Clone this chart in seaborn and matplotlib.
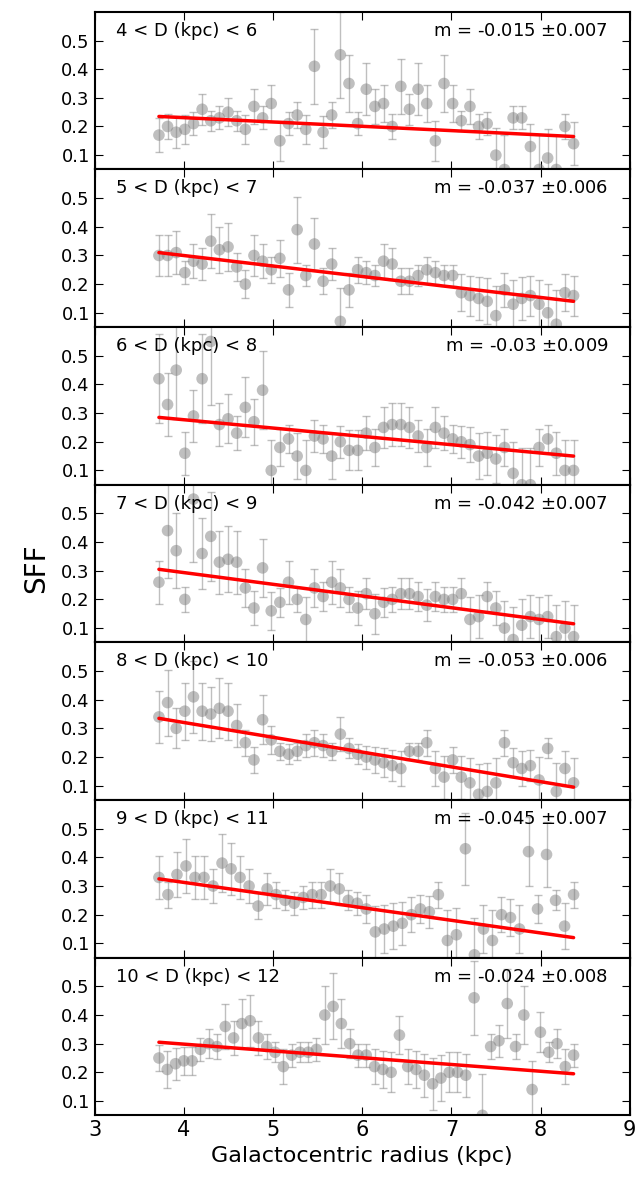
import numpy as np
import matplotlib
matplotlib.use("Agg")
import matplotlib.pyplot as plt
import seaborn as sns

labels = ["4 < D (kpc) < 6", "5 < D (kpc) < 7", "6 < D (kpc) < 8", "7 < D (kpc) < 9",
          "8 < D (kpc) < 10", "9 < D (kpc) < 11", "10 < D (kpc) < 12"]
slopes = ["m = -0.015 $\\pm$0.007", "m = -0.037 $\\pm$0.006", "m = -0.03 $\\pm$0.009",
          "m = -0.042 $\\pm$0.007", "m = -0.053 $\\pm$0.006", "m = -0.045 $\\pm$0.007",
          "m = -0.024 $\\pm$0.008"]

sff1 = [0.17, 0.20, 0.18, 0.19, 0.21, 0.26, 0.22, 0.23, 0.25, 0.22, 0.19, 0.27, 0.23, 0.28, 0.15, 0.21,
        0.24, 0.19, 0.41, 0.18, 0.24, 0.45, 0.35, 0.21, 0.33, 0.27, 0.28, 0.20, 0.34, 0.26, 0.33, 0.28,
        0.15, 0.35, 0.28, 0.22, 0.27, 0.20, 0.21, 0.10, 0.05, 0.23, 0.23, 0.13, 0.05, 0.09, 0.05, 0.20, 0.14]
sff2 = [0.30, 0.30, 0.31, 0.24, 0.28, 0.27, 0.35, 0.32, 0.33, 0.26, 0.20, 0.30, 0.28, 0.25, 0.29, 0.18,
        0.39, 0.23, 0.34, 0.21, 0.27, 0.07, 0.18, 0.25, 0.24, 0.23, 0.28, 0.27, 0.21, 0.21, 0.23, 0.25,
        0.24, 0.23, 0.23, 0.17, 0.16, 0.15, 0.14, 0.09, 0.18, 0.13, 0.15, 0.16, 0.13, 0.10, 0.06, 0.17, 0.16]
sff3 = [0.42, 0.33, 0.45, 0.16, 0.29, 0.42, 0.55, 0.26, 0.28, 0.23, 0.32, 0.27, 0.38, 0.10, 0.18, 0.21,
        0.15, 0.10, 0.22, 0.21, 0.15, 0.20, 0.17, 0.17, 0.23, 0.18, 0.25, 0.26, 0.26, 0.25, 0.22, 0.18,
        0.25, 0.23, 0.21, 0.20, 0.19, 0.15, 0.16, 0.14, 0.18, 0.09, 0.05, 0.05, 0.18, 0.21, 0.16, 0.10, 0.10]
sff4 = [0.26, 0.44, 0.37, 0.20, 0.55, 0.36, 0.42, 0.33, 0.34, 0.33, 0.24, 0.17, 0.31, 0.16, 0.19, 0.26,
        0.20, 0.13, 0.24, 0.21, 0.26, 0.24, 0.20, 0.17, 0.22, 0.15, 0.19, 0.20, 0.22, 0.22, 0.21, 0.18,
        0.21, 0.20, 0.20, 0.22, 0.13, 0.14, 0.21, 0.17, 0.10, 0.06, 0.11, 0.14, 0.13, 0.14, 0.07, 0.10, 0.07]
sff5 = [0.34, 0.39, 0.30, 0.36, 0.41, 0.36, 0.35, 0.37, 0.36, 0.31, 0.25, 0.19, 0.33, 0.26, 0.22, 0.21,
        0.22, 0.24, 0.25, 0.24, 0.22, 0.28, 0.23, 0.21, 0.20, 0.19, 0.18, 0.17, 0.16, 0.22, 0.22, 0.25,
        0.16, 0.13, 0.19, 0.13, 0.11, 0.07, 0.08, 0.11, 0.25, 0.18, 0.16, 0.17, 0.12, 0.23, 0.08, 0.16, 0.11]
sff6 = [0.33, 0.27, 0.34, 0.37, 0.33, 0.33, 0.30, 0.38, 0.36, 0.33, 0.30, 0.23, 0.29, 0.27, 0.25, 0.24,
        0.26, 0.27, 0.27, 0.30, 0.29, 0.25, 0.24, 0.22, 0.14, 0.15, 0.16, 0.17, 0.20, 0.22, 0.21, 0.27,
        0.11, 0.13, 0.43, 0.06, 0.15, 0.11, 0.20, 0.19, 0.15, 0.42, 0.22, 0.41, 0.25, 0.16, 0.27]
sff7 = [0.25, 0.21, 0.23, 0.24, 0.24, 0.28, 0.30, 0.29, 0.36, 0.32, 0.37, 0.38, 0.32, 0.29, 0.27, 0.22,
        0.26, 0.27, 0.27, 0.28, 0.40, 0.43, 0.37, 0.30, 0.26, 0.26, 0.22, 0.21, 0.20, 0.33, 0.22, 0.21,
        0.19, 0.16, 0.18, 0.20, 0.20, 0.19, 0.46, 0.05, 0.29, 0.31, 0.44, 0.29, 0.40, 0.14, 0.34, 0.27,
        0.30, 0.22, 0.26]
panels = [sff1, sff2, sff3, sff4, sff5, sff6, sff7]
typical_err = [0.035, 0.035, 0.05, 0.045, 0.03, 0.035, 0.035]
# fitted line values at the first and last radius
fit_start = [0.235, 0.31, 0.285, 0.305, 0.335, 0.325, 0.305]
fit_end = [0.165, 0.14, 0.15, 0.115, 0.095, 0.12, 0.195]
r_min, r_max = 3.72, 8.37

sns.set_style("ticks")
plt.rcParams["font.family"] = ["DejaVu Sans"]
plt.rcParams["text.color"] = "black"
plt.rcParams["axes.labelcolor"] = "black"
plt.rcParams["xtick.color"] = "black"
plt.rcParams["ytick.color"] = "black"

fig, axes = plt.subplots(7, 1, figsize=(6.4, 11.84), sharex=True)
fig.subplots_adjust(left=0.148, right=0.984, top=0.99, bottom=0.058, hspace=0)

for i, ax in enumerate(axes):
    y = np.array(panels[i])
    x = np.linspace(r_min, r_max, len(y))
    err = np.full(len(y), typical_err[i]) + np.abs(y - np.median(y)) * 0.5
    ax.errorbar(x, y, yerr=err, fmt="none", ecolor="grey", alpha=0.5, capsize=3, lw=1)
    sns.scatterplot(x=x, y=y, ax=ax, color="grey", alpha=0.5, s=70, edgecolor="none")
    ax.plot([r_min, r_max], [fit_start[i], fit_end[i]], color="red", lw=2.5)
    ax.set_xlim(3, 9)
    ax.set_ylim(0.05, 0.6)
    ax.set_yticks([0.1, 0.2, 0.3, 0.4, 0.5])
    ax.tick_params(direction="in", top=True, right=True, labelsize=13, length=6)
    for s in ax.spines.values():
        s.set_linewidth(1.5)
        s.set_color("black")
    ax.text(0.04, 0.88, labels[i], transform=ax.transAxes, fontsize=13, va="center")
    ax.text(0.96, 0.88, slopes[i], transform=ax.transAxes, fontsize=13, va="center", ha="right")

axes[-1].tick_params(axis="x", labelsize=15)
axes[-1].set_xlabel("Galactocentric radius (kpc)", fontsize=16)
fig.text(0.035, 0.52, "SFF", rotation=90, fontsize=20, va="center")
fig.savefig("out.png", dpi=100)
